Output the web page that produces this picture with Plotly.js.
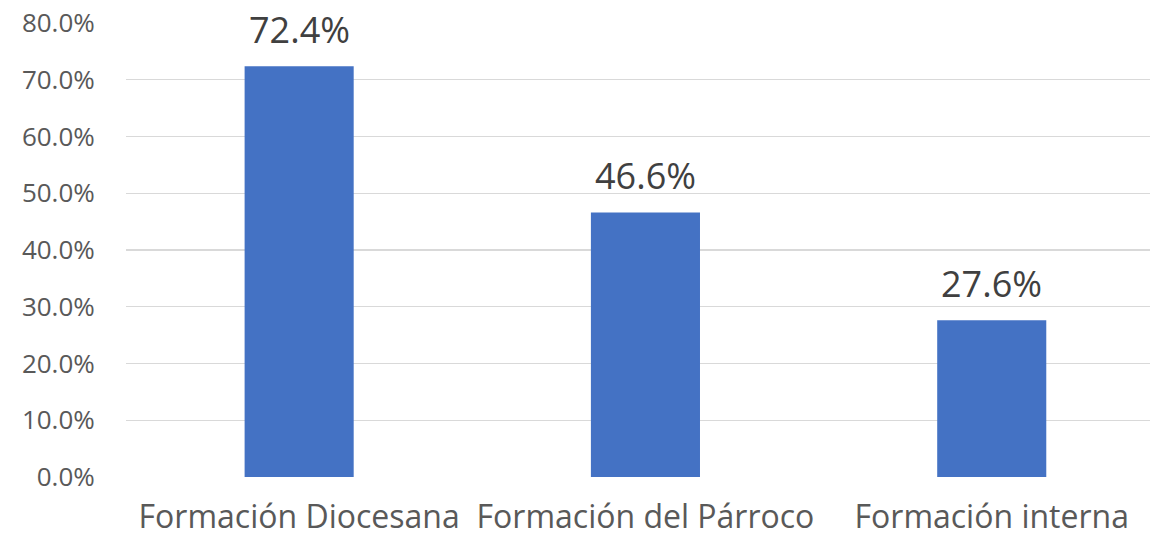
<!DOCTYPE html>
<html>
<head>
<meta charset="utf-8">
<script src="https://cdn.plot.ly/plotly-3.0.1.min.js"></script>
<style>html,body{margin:0;padding:0;background:#fff;}#chart{width:1150px;height:539px;}</style>
</head>
<body>
<div id="chart"></div>
<script>
var categories = ["Formación Diocesana", "Formación del Párroco", "Formación interna"];
var values = [72.4, 46.6, 27.6];
var valueLabels = ["72.4%", "46.6%", "27.6%"];
var yTickValues = [0, 10, 20, 30, 40, 50, 60, 70, 80];
var yTickLabels = ["0.0%", "10.0%", "20.0%", "30.0%", "40.0%", "50.0%", "60.0%", "70.0%", "80.0%"];

var xIdx = categories.map(function (c, i) { return i; });

var trace = {
  type: 'bar',
  x: xIdx,
  y: values,
  width: 0.315,
  marker: {color: '#4472C4'},
  hoverinfo: 'none'
};

var annotations = values.map(function (v, i) {
  return {
    x: i, y: v, xref: 'x', yref: 'y',
    text: valueLabels[i], showarrow: false,
    yanchor: 'middle', yshift: 37,
    font: {family: 'Open Sans', size: 36, color: '#404040'}
  };
});

var layout = {
  width: 1150, height: 539,
  margin: {l: 126, r: 0, t: 22.5, b: 62, pad: 0},
  paper_bgcolor: '#ffffff', plot_bgcolor: '#ffffff',
  showlegend: false,
  xaxis: {
    range: [-0.5, 2.457],
    tickvals: xIdx, ticktext: categories,
    showgrid: false, zeroline: false, showline: false,
    ticks: 'outside', ticklen: 12, tickcolor: 'rgba(0,0,0,0)',
    tickfont: {family: 'Open Sans', size: 32, color: '#595959'},
    fixedrange: true
  },
  yaxis: {
    range: [0, 80],
    tickvals: yTickValues, ticktext: yTickLabels,
    showgrid: true, gridcolor: '#D9D9D9', gridwidth: 1.3,
    zeroline: false, showline: false,
    ticks: 'outside', ticklen: 25, tickcolor: 'rgba(0,0,0,0)',
    tickfont: {family: 'Open Sans', size: 26, color: '#595959'},
    fixedrange: true
  },
  annotations: annotations
};

Plotly.newPlot('chart', [trace], layout, {displayModeBar: false, staticPlot: true});
</script>
</body>
</html>
